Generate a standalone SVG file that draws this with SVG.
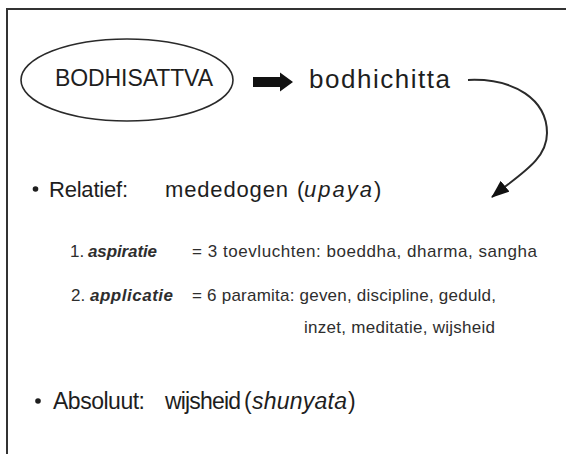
<svg xmlns="http://www.w3.org/2000/svg" width="566" height="454" viewBox="0 0 566 454">
<style>
text{font-family:"Liberation Sans","DejaVu Sans",sans-serif;fill:#1e1e1e}
.big{font-size:22px}
.sub{fill:#2e2e2e;font-size:17px}
.it{font-style:italic}
.bi{font-style:italic;font-weight:bold}
.ln{fill:none;stroke:#2a2a2a;stroke-width:2}
</style>
<defs>
<marker id="ah" markerUnits="userSpaceOnUse" markerWidth="18" markerHeight="14" refX="17" refY="7" orient="auto" viewBox="0 0 18 14">
<path d="M0,0 L18,7 L0,14 z" fill="#111"/>
</marker>
</defs>
<rect x="7" y="9" width="580" height="470" fill="#fff" stroke="#333" stroke-width="2"/>
<g id="node-bodhisattva">
<ellipse cx="127" cy="80" rx="106" ry="41" fill="none" stroke="#2a2a2a" stroke-width="1.6"/>
<text x="55" y="86" font-size="23" textLength="158">BODHISATTVA</text>
</g>
<g id="node-bodhichitta">
<text x="309" y="88" font-size="26" textLength="141">bodhichitta</text>
</g>
<g id="node-relatief">
<circle cx="35.5" cy="189" r="2.8" fill="#1e1e1e"/>
<text class="big" x="49" y="197" textLength="79">Relatief:</text>
<text class="big" x="165" y="197" textLength="123">mededogen</text>
<text class="big" x="297" y="197">(</text>
<text class="big it" x="304" y="197" textLength="68">upaya</text>
<text class="big" x="374" y="197">)</text>
</g>
<g id="node-aspiratie">
<text class="sub" x="70" y="257">1.</text>
<text class="sub bi" x="88" y="257" textLength="69">aspiratie</text>
<text class="sub" x="192" y="257" textLength="345">= 3 toevluchten: boeddha, dharma, sangha</text>
</g>
<g id="node-applicatie">
<text class="sub" x="71" y="301">2.</text>
<text class="sub bi" x="90" y="301" textLength="83">applicatie</text>
<text class="sub" x="192" y="301" textLength="304">= 6 paramita: geven, discipline, geduld,</text>
<text class="sub" x="304" y="333" textLength="191">inzet, meditatie, wijsheid</text>
</g>
<g id="node-absoluut">
<circle cx="38" cy="401" r="2.8" fill="#1e1e1e"/>
<text x="53" y="409" font-size="23" textLength="92">Absoluut:</text>
<text x="165" y="409" font-size="23" textLength="76">wijsheid</text>
<text x="244" y="409" font-size="23">(</text>
<text class="it" x="252" y="409" font-size="23" textLength="95">shunyata</text>
<text x="348" y="409" font-size="23">)</text>
</g>
<g id="connectors">
<polygon points="253,77 280,77 280,72.5 293,82 280,91.5 280,87 253,87" fill="#111"/>
<path class="ln" d="M468,80 C515,78 547,100 547,133 C547,160 520,174 492,197" marker-end="url(#ah)"/>
</g>
</svg>
